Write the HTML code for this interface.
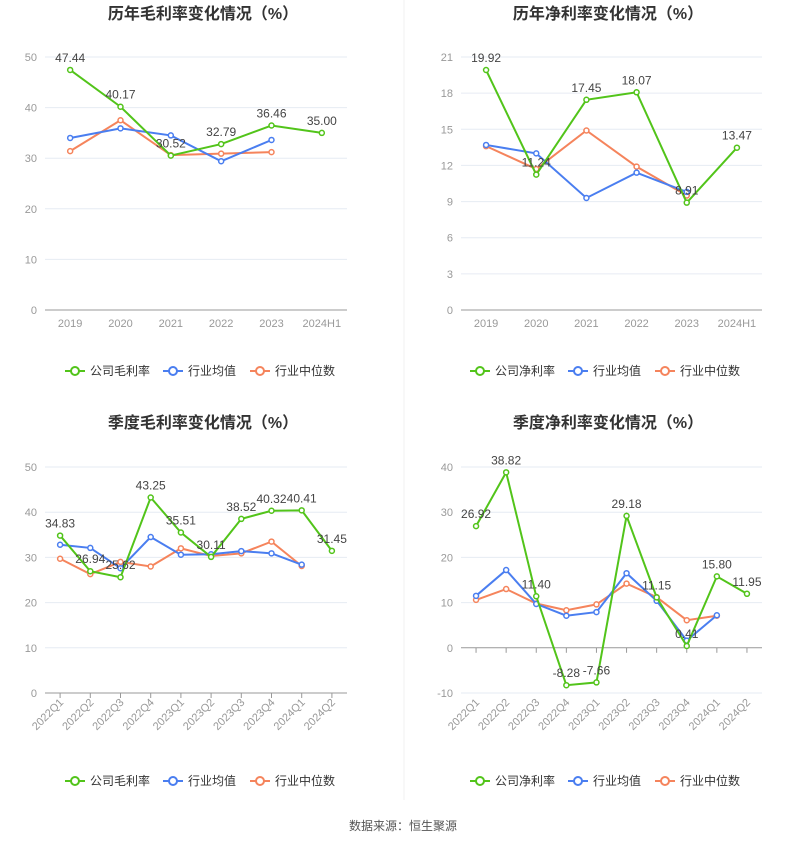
<!DOCTYPE html>
<html><head><meta charset="utf-8"><style>
body{margin:0;background:#fff;font-family:"Liberation Sans","Noto Sans CJK SC",sans-serif}
svg text{font-family:"Liberation Sans","Noto Sans CJK SC",sans-serif}
</style></head><body>
<svg id="s" width="807" height="846">
<line x1="404" y1="0" x2="404" y2="800" stroke="#f2f2f2"/>
<text x="403" y="830" font-size="12" fill="#555" text-anchor="middle">数据来源：恒生聚源</text>
</svg>
<script>
const yearCats=["2019","2020","2021","2022","2023","2024H1"];
const qCats=["2022Q1","2022Q2","2022Q3","2022Q4","2023Q1","2023Q2","2023Q3","2023Q4","2024Q1","2024Q2"];
const gmCompany=[47.44,40.17,30.52,32.79,36.46,35.00];
const gmAvg=[34.0,35.9,34.5,29.4,33.6];
const gmMed=[31.4,37.5,30.6,30.9,31.2];
const nmCompany=[19.92,11.24,17.45,18.07,8.91,13.47];
const nmAvg=[13.7,13.0,9.3,11.4,9.8];
const nmMed=[13.6,11.7,14.9,11.9,9.5];
const qgmCompany=[34.83,26.94,25.62,43.25,35.51,30.11,38.52,40.32,40.41,31.45];
const qgmAvg=[32.8,32.1,27.6,34.5,30.6,30.7,31.4,30.9,28.4];
const qgmMed=[29.7,26.3,29.0,28.0,32.0,30.3,30.9,33.5,28.1];
const qnmCompany=[26.92,38.82,11.40,-8.28,-7.66,29.18,11.15,0.41,15.80,11.95];
const qnmAvg=[11.5,17.2,9.7,7.1,7.9,16.5,10.4,1.6,7.2];
const qnmMed=[10.6,13.0,9.8,8.3,9.6,14.2,11.2,6.1,7.1];
const ticks1=[0,10,20,30,40,50],ticks2=[0,3,6,9,12,15,18,21],ticks3=[0,10,20,30,40,50],ticks4=[-10,0,10,20,30,40];

const S=document.getElementById('s'),NS="http://www.w3.org/2000/svg";
function mk(t,a,p){const e=document.createElementNS(NS,t);for(const k in a)e.setAttribute(k,a[k]);(p||S).appendChild(e);return e;}
const G="#52c41a",B="#4a7ef0",O="#f5845c";
function chart(o){
  const g=mk('g',{});
  
  
  const ymin=o.ticks[0],ymax=o.ticks[o.ticks.length-1];
  const y=v=>o.yb-(v-ymin)/(ymax-ymin)*(o.yb-o.yt);
  const bw=(o.xr-o.xl)/o.cats.length;
  const x=i=>o.xl+bw*(i+0.5);
  const t=mk('text',{x:o.cx,y:o.ty,'font-size':16,'font-weight':'bold',fill:'#333','text-anchor':'middle'},g);
  t.textContent=o.title;
  
  
  o.ticks.forEach(v=>{
    if(v!==0){const l=mk('line',{x1:o.xl,x2:o.xr,y1:y(v),y2:y(v),stroke:'#e6ebf3'},g);
    }
    const tx=mk('text',{x:o.xl-8,y:y(v)+4,'font-size':11,fill:'#999','text-anchor':'end'},g);
    tx.textContent=v;
    
    
  });
  const ax=mk('line',{x1:o.xl,x2:o.xr,y1:y(0),y2:y(0),stroke:'#999'},g);
  
  o.cats.forEach((c,i)=>{
    if(o.rot){mk('line',{x1:x(i),x2:x(i),y1:y(0),y2:y(0)+5,stroke:'#999'},g);
      const tx=mk('text',{x:x(i)+4,y:o.yb+10,'font-size':11,fill:'#999','text-anchor':'end',transform:`rotate(-45 ${x(i)+4} ${o.yb+10})`},g);
      tx.textContent=c;}
    else{const tx=mk('text',{x:x(i),y:o.yb+17,'font-size':11,fill:'#999','text-anchor':'middle'},g);
      tx.textContent=c;}
  });
  [[o.med,O,'median'],[o.avg,B,'average'],[o.co,G,'company']].forEach(([d,c,n])=>{
    const pl=mk('polyline',{points:d.map((v,i)=>x(i)+','+y(v)).join(' '),fill:'none',stroke:c,'stroke-width':2},g);
    
    d.forEach((v,i)=>{const p=mk('circle',{cx:x(i),cy:y(v),r:2.5,fill:'#fff',stroke:c,'stroke-width':1.5},g);
      });
  });
  o.co.forEach((v,i)=>{const tx=mk('text',{x:x(i),y:y(v)-8,'font-size':12,fill:'#444','text-anchor':'middle'},g);
    tx.textContent=v.toFixed(2);});
  const items=[[o.coName,G],["行业均值",B],["行业中位数",O]];
  let lx=o.cx-138;
  items.forEach(([n,c],k)=>{
    const lg=mk('g',{},g);
    
    
    mk('line',{x1:lx,x2:lx+20,y1:o.ly,y2:o.ly,stroke:c,'stroke-width':2},lg);
    mk('circle',{cx:lx+10,cy:o.ly,r:4,fill:'#fff',stroke:c,'stroke-width':2},lg);
    const tx=mk('text',{x:lx+25,y:o.ly+4,'font-size':12,fill:'#333'},lg);tx.textContent=n;
    lx+=[98,87,0][k];
  });
}
chart({name:'annual-gross-margin-chart',title:'历年毛利率变化情况（%）',cx:203,ty:19,xl:45,xr:347,yt:57,yb:310,ticks:ticks1,cats:yearCats,co:gmCompany,avg:gmAvg,med:gmMed,coName:'公司毛利率',ly:371});
chart({name:'annual-net-margin-chart',title:'历年净利率变化情况（%）',cx:608,ty:19,xl:461,xr:762,yt:57,yb:310,ticks:ticks2,cats:yearCats,co:nmCompany,avg:nmAvg,med:nmMed,coName:'公司净利率',ly:371});
chart({name:'quarterly-gross-margin-chart',title:'季度毛利率变化情况（%）',cx:203,ty:428,xl:45,xr:347,yt:467,yb:693,ticks:ticks3,cats:qCats,co:qgmCompany,avg:qgmAvg,med:qgmMed,coName:'公司毛利率',ly:781,rot:1});
chart({name:'quarterly-net-margin-chart',title:'季度净利率变化情况（%）',cx:608,ty:428,xl:461,xr:762,yt:467,yb:693,ticks:ticks4,cats:qCats,co:qnmCompany,avg:qnmAvg,med:qnmMed,coName:'公司净利率',ly:781,rot:1});
</script>
</body></html>
